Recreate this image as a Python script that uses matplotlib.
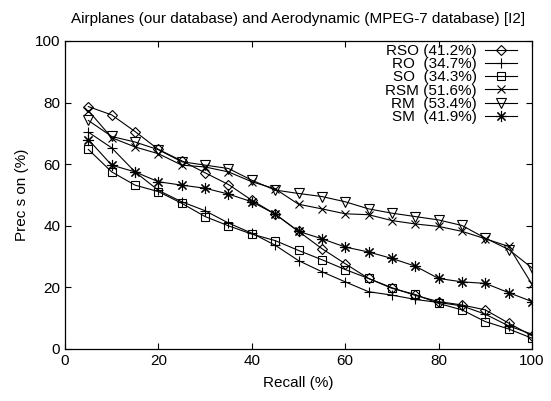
import matplotlib
matplotlib.use("Agg")
import matplotlib.pyplot as plt

plt.rcParams['font.family'] = ['Liberation Sans', 'DejaVu Sans']
plt.rcParams['font.size'] = 11

# recall points (%)
recall = [5, 10, 15, 20, 25, 30, 35, 40, 45, 50,
          55, 60, 65, 70, 75, 80, 85, 90, 95, 100]

# precision values (%)
rso = [78.7, 76.0, 70.6, 64.8, 61.1, 57.2, 53.4, 48.3, 43.8, 38.2,
       32.6, 27.7, 22.9, 19.9, 17.4, 15.4, 14.3, 12.7, 8.4, 4.3]
ro = [70.4, 65.3, 57.5, 51.5, 47.8, 44.9, 40.9, 37.6, 33.7, 28.7,
      25.1, 21.8, 18.6, 17.5, 16.1, 15.1, 14.0, 11.3, 7.5, 4.8]
so = [64.8, 57.5, 53.2, 51.1, 47.3, 43.0, 40.0, 37.3, 35.2, 32.0,
      29.0, 25.8, 22.9, 19.7, 17.7, 14.8, 12.7, 8.9, 6.5, 3.5]
rsm = [77.4, 68.6, 65.6, 63.4, 59.7, 59.1, 57.5, 54.3, 52.0, 47.0,
       45.5, 43.9, 43.6, 41.7, 40.6, 39.8, 38.2, 35.8, 33.3, 21.0]
rm = [74.2, 69.0, 67.2, 64.7, 60.8, 59.7, 58.6, 54.8, 51.6, 50.5,
      49.5, 47.8, 45.5, 44.1, 43.0, 41.9, 40.1, 36.0, 32.3, 26.3]
sm = [68.0, 59.7, 57.5, 54.3, 53.2, 52.2, 50.3, 47.8, 43.8, 38.2,
      35.8, 33.1, 31.5, 29.4, 26.9, 22.9, 21.8, 21.3, 18.3, 15.4]

labels = ['RSO (41.2%)', 'RO  (34.7%)', 'SO  (34.3%)',
          'RSM (51.6%)', 'RM  (53.4%)', 'SM  (41.9%)']
series = [rso, ro, so, rsm, rm, sm]
markers = ['D', '+', 's', 'x', 'v', (8, 2, 0)]
sizes = [5, 7, 6, 6, 7, 8]

fig = plt.figure(figsize=(5.51, 4.01), dpi=100)
ax = fig.add_axes([65 / 551, 1 - 349 / 401, (532 - 65) / 551, (349 - 41) / 401])

for ys, lab, mk, ms in zip(series, labels, markers, sizes):
    ax.plot(recall, ys, color='black', lw=0.8, marker=mk, ms=ms,
            mfc='none', mec='black', mew=0.8, label=lab)

ax.set_xlim(0, 100)
ax.set_ylim(0, 100)
ax.set_xticks(range(0, 101, 20))
ax.set_yticks(range(0, 101, 20))
ax.tick_params(direction='in', top=True, right=True, length=4, width=0.8)
for s in ax.spines.values():
    s.set_linewidth(0.9)

ax.set_xlabel('Recall (%)', labelpad=6)
ax.set_ylabel('Prec s on (%)', labelpad=4)
ax.set_title('Airplanes (our database) and Aerodynamic (MPEG-7 database) [I2]',
             fontsize=11, pad=13)

ax.legend(loc='upper right', bbox_to_anchor=((517 - 65) / 467, (349 - 44) / 308),
          markerfirst=False, frameon=False,
          handlelength=2.1, labelspacing=-0.05, handletextpad=0.55,
          borderaxespad=0, borderpad=0)

fig.savefig('out.png', dpi=100)
